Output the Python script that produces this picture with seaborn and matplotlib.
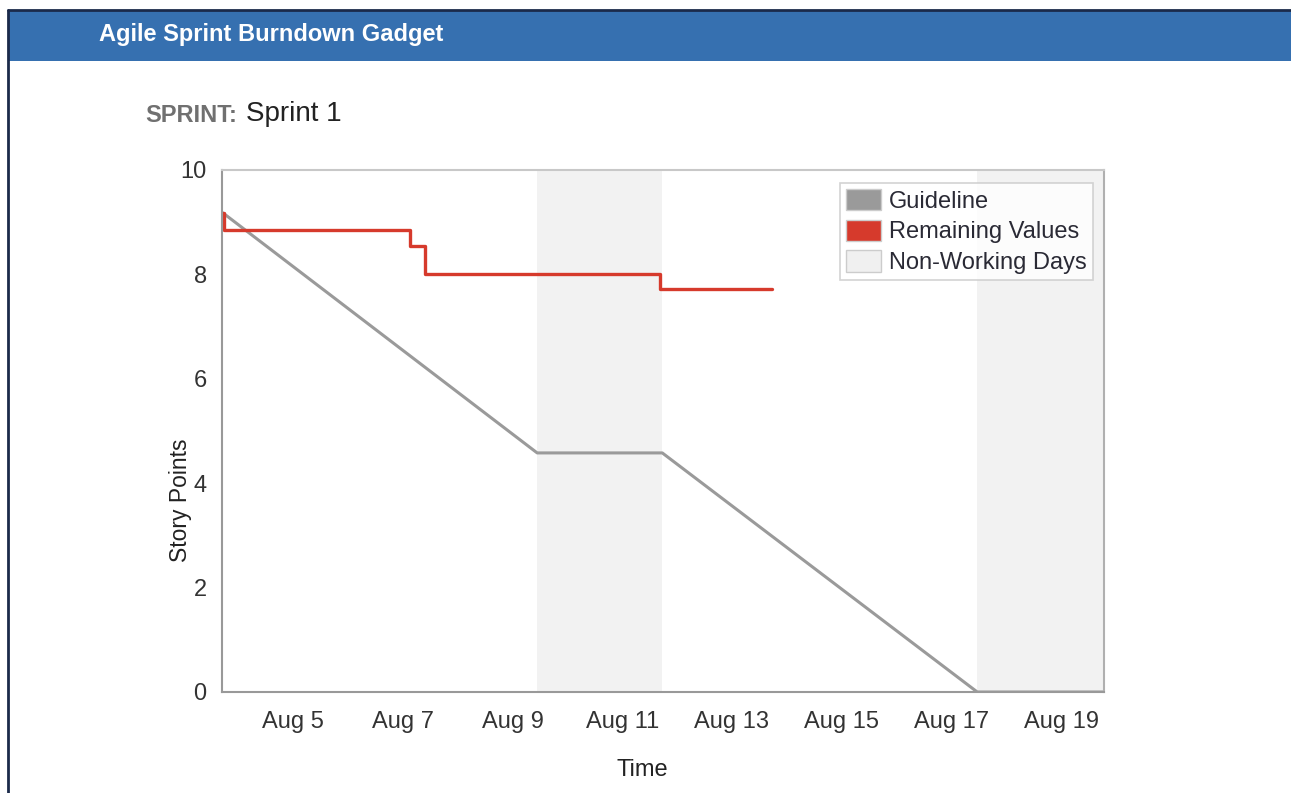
import matplotlib
matplotlib.use("Agg")
import matplotlib.pyplot as plt
import matplotlib.patches as mpatches
import seaborn as sns
import pandas as pd

# day-of-month positions (fractional days)
guide_days = [3.72, 9.45, 11.73, 17.47, 19.78]
guide_points = [9.18, 4.58, 4.58, 0.0, 0.0]

remaining_days = [3.72, 3.75, 7.13, 7.40, 11.69, 13.73]
remaining_points = [9.18, 8.85, 8.55, 8.0, 7.72, 7.72]

non_working = [(9.45, 11.73), (17.47, 19.78)]

tick_days = [5, 7, 9, 11, 13, 15, 17, 19]
tick_labels = ["Aug 5", "Aug 7", "Aug 9", "Aug 11", "Aug 13", "Aug 15", "Aug 17", "Aug 19"]
y_ticks = [0, 2, 4, 6, 8, 10]

sns.set_theme(style="white")
plt.rcParams["font.family"] = ["Liberation Sans", "DejaVu Sans"]

W, H = 1291, 793
fig = plt.figure(figsize=(W / 100, H / 100), dpi=100)
fig.patch.set_facecolor("white")

# gadget header bar and frame lines
fig.patches.append(mpatches.Rectangle((8 / W, 1 - 61 / H), 1, 50 / H, transform=fig.transFigure,
                                      facecolor="#3670b0", edgecolor="none"))
fig.lines.append(plt.Line2D([8 / W, 1], [1 - 10 / H, 1 - 10 / H], transform=fig.transFigure,
                            color="#1b2a4a", lw=2))
fig.lines.append(plt.Line2D([8 / W, 8 / W], [0, 1 - 10 / H], transform=fig.transFigure,
                            color="#1b2a4a", lw=2))
fig.text(99 / W, 1 - 35 / H, "Agile Sprint Burndown Gadget", color="white", fontsize=17,
         fontweight="bold", va="center", ha="left")
fig.text(145 / W, 1 - 116 / H, "SPRINT:", color="#707070", fontsize=17, fontweight="bold",
         va="center", ha="left")
fig.text(246 / W, 1 - 114 / H, "Sprint 1", color="#222222", fontsize=20, va="center", ha="left")

ax = fig.add_axes([222 / W, (H - 692) / H, 882 / W, 522 / H])

for start, end in non_working:
    ax.axvspan(start, end, color="#f2f2f2", lw=0, zorder=0)

guide = pd.DataFrame({"day": guide_days, "points": guide_points})
remaining = pd.DataFrame({"day": remaining_days, "points": remaining_points})

sns.lineplot(data=guide, x="day", y="points", ax=ax, color="#9a9a9a", lw=2.2, sort=False)
sns.lineplot(data=remaining, x="day", y="points", ax=ax, color="#d63a2c", lw=2.4,
             drawstyle="steps-post", sort=False)

ax.set_xlim(3.706, 19.78)
ax.set_ylim(0, 10)
ax.set_xticks(tick_days)
ax.set_xticklabels(tick_labels)
ax.set_yticks(y_ticks)
ax.tick_params(axis="both", length=0, labelsize=17, colors="#333333")
ax.tick_params(axis="x", pad=14)
ax.tick_params(axis="y", pad=11)
ax.set_xlabel("Time", fontsize=17, color="#222222")
ax.set_ylabel("Story Points", fontsize=16.5, color="#222222")
ax.xaxis.set_label_coords(0.476, -0.128)
ax.yaxis.set_label_coords(-0.034, 0.367)
ax.grid(False)

for side, col in {"left": "#999999", "bottom": "#999999", "top": "#c8c8c8", "right": "#b0b0b0"}.items():
    ax.spines[side].set_color(col)
    ax.spines[side].set_linewidth(1.5)

handles = [
    mpatches.Patch(facecolor="#9a9a9a", edgecolor="#cccccc", label="Guideline"),
    mpatches.Patch(facecolor="#d63a2c", edgecolor="#cccccc", label="Remaining Values"),
    mpatches.Patch(facecolor="#f0f0f0", edgecolor="#cccccc", label="Non-Working Days"),
]
leg = ax.legend(handles=handles, loc="upper right", bbox_to_anchor=(0.9875, 0.975), fontsize=17,
                frameon=True, fancybox=False, edgecolor="#c8c8c8", handlelength=1.5,
                handleheight=1.0, handletextpad=0.35, borderpad=0.25, labelspacing=0.3,
                borderaxespad=0)
leg.get_frame().set_linewidth(1.2)
for t in leg.get_texts():
    t.set_color("#2a2a35")

fig.savefig("out.png", dpi=100)
